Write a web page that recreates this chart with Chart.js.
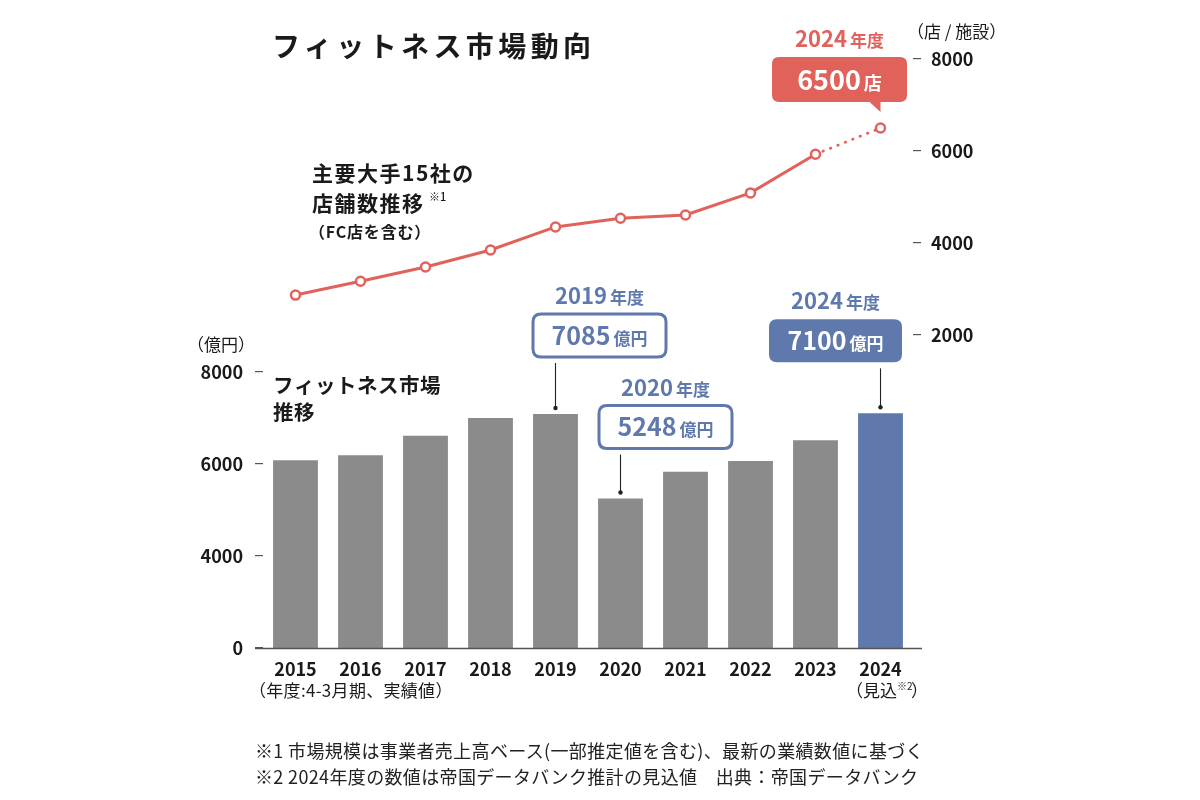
<!DOCTYPE html>
<html lang="ja">
<head>
<meta charset="utf-8">
<script src="https://cdn.jsdelivr.net/npm/chart.js@4.4.1/dist/chart.umd.min.js"></script>
<style>
  body { margin: 0; background: #fff; font-family: "Noto Sans CJK JP", "Noto Sans", sans-serif; }
  .page { position: relative; width: 1200px; height: 800px; overflow: hidden; }
  .page canvas { position: absolute; left: 0; top: 0; }
  .title { position: absolute; left: 272px; top: 27px; font-size: 28px; font-weight: 700; letter-spacing: 4.4px; line-height: 36px; color: #1a1a1a; }
  .notes { position: absolute; left: 255px; top: 737px; font-size: 18px; line-height: 26px; letter-spacing: 0.35px; color: #222; white-space: nowrap; }
</style>
</head>
<body>
<div class="page">
  <canvas id="fitnessChart" width="1200" height="800"></canvas>
  <div class="title">フィットネス市場動向</div>
  <div class="notes">
    <div>※1 市場規模は事業者売上高ベース(一部推定値を含む)、最新の業績数値に基づく</div>
    <div>※2 2024年度の数値は帝国データバンク推計の見込値　出典：帝国データバンク</div>
  </div>
</div>
<script>
// 年度
const years = ['2015', '2016', '2017', '2018', '2019', '2020', '2021', '2022', '2023', '2024'];
// フィットネス市場規模（億円）
const marketSize = [6080, 6190, 6610, 7000, 7085, 5248, 5830, 6065, 6515, 7100];
// 主要大手15社の店舗数（店/施設）
const storeCount = [2870, 3170, 3480, 3850, 4350, 4540, 4610, 5090, 5930, 6500];
// 左軸（億円）: 最下段は省略軸で「0」表示
const marketTicks = [2000, 4000, 6000, 8000];
const marketTickLabels = ['0', '4000', '6000', '8000'];
// 右軸（店/施設）
const storeTicks = [2000, 4000, 6000, 8000];

const RED = '#e0625b';
const BLUE = '#5f79ad';
const GRAY = '#8b8b8b';
const INK = '#1a1a1a';
const JP = '"Noto Sans CJK JP", "Noto Sans", sans-serif';

function font(size, weight) {
  return `${weight || 700} ${size}px ${JP}`;
}

function roundRect(ctx, x, y, w, h, r) {
  ctx.beginPath();
  ctx.moveTo(x + r, y);
  ctx.lineTo(x + w - r, y);
  ctx.quadraticCurveTo(x + w, y, x + w, y + r);
  ctx.lineTo(x + w, y + h - r);
  ctx.quadraticCurveTo(x + w, y + h, x + w - r, y + h);
  ctx.lineTo(x + r, y + h);
  ctx.quadraticCurveTo(x, y + h, x, y + h - r);
  ctx.lineTo(x, y + r);
  ctx.quadraticCurveTo(x, y, x + r, y);
  ctx.closePath();
}

// big number + small unit, centred on cx, baseline at by
function drawPair(ctx, cx, by, big, bigSize, small, smallSize, color, gap) {
  ctx.fillStyle = color;
  ctx.textBaseline = 'alphabetic';
  ctx.textAlign = 'left';
  ctx.font = font(bigSize);
  const w1 = ctx.measureText(big).width;
  ctx.font = font(smallSize);
  const w2 = ctx.measureText(small).width;
  const x0 = cx - (w1 + gap + w2) / 2;
  ctx.font = font(bigSize);
  ctx.fillText(big, x0, by);
  ctx.font = font(smallSize);
  ctx.fillText(small, x0 + w1 + gap, by);
}

function drawLines(ctx, x, lines, size, weight, spacing, align) {
  ctx.fillStyle = INK;
  ctx.textAlign = align || 'left';
  ctx.textBaseline = 'middle';
  ctx.font = font(size, weight);
  if ('letterSpacing' in ctx) ctx.letterSpacing = spacing + 'px';
  lines.forEach(([text, y]) => ctx.fillText(text, x, y));
  if ('letterSpacing' in ctx) ctx.letterSpacing = '0px';
}

const annotations = {
  id: 'annotations',
  afterDatasetsDraw(chart) {
    const { ctx, chartArea } = chart;
    const xs = chart.scales.x;
    const ys = chart.scales.y;
    const ys2 = chart.scales.y2;
    ctx.save();

    // baseline
    ctx.strokeStyle = '#555';
    ctx.lineWidth = 1.5;
    ctx.beginPath();
    ctx.moveTo(chartArea.left - 8, chartArea.bottom + 0.5);
    ctx.lineTo(chartArea.right + 9, chartArea.bottom + 0.5);
    ctx.stroke();

    // market callouts
    const callouts = [
      { year: '2019', dx: 44, top: -100, filled: false },
      { year: '2020', dx: 45, top: -93, filled: false },
      { year: '2024', dx: -45, top: -94, filled: true },
    ];
    callouts.forEach(c => {
      const i = years.indexOf(c.year);
      const x = xs.getPixelForValue(i);
      const y = ys.getPixelForValue(marketSize[i]);
      const w = 133, h = 43;
      const cx = x + c.dx;
      const top = y + c.top;
      roundRect(ctx, cx - w / 2, top, w, h, 8);
      if (c.filled) {
        ctx.fillStyle = BLUE;
        ctx.fill();
      } else {
        ctx.fillStyle = '#fff';
        ctx.fill();
        ctx.strokeStyle = BLUE;
        ctx.lineWidth = 3;
        ctx.stroke();
      }
      drawPair(ctx, cx, top + h / 2 + 9, String(marketSize[i]), 25, '億円', 17, c.filled ? '#fff' : BLUE, 3);
      drawPair(ctx, cx, top - 10, c.year, 22, '年度', 17, BLUE, 3);
      // connector
      ctx.strokeStyle = '#222';
      ctx.lineWidth = 1.1;
      ctx.beginPath();
      ctx.moveTo(x, top + h + 6);
      ctx.lineTo(x, y - 6);
      ctx.stroke();
      ctx.fillStyle = '#222';
      ctx.beginPath();
      ctx.arc(x, y - 6, 2.2, 0, Math.PI * 2);
      ctx.fill();
    });

    // store count callout (speech bubble)
    {
      const i = years.length - 1;
      const x = xs.getPixelForValue(i);
      const y = ys2.getPixelForValue(storeCount[i]);
      const w = 135, h = 45;
      const cx = x - 41;
      const top = y - 71;
      ctx.fillStyle = RED;
      roundRect(ctx, cx - w / 2, top, w, h, 7);
      ctx.fill();
      ctx.beginPath();
      ctx.moveTo(x - 12, top + h - 1);
      ctx.lineTo(x, top + h - 1);
      ctx.lineTo(x, top + h + 10);
      ctx.closePath();
      ctx.fill();
      drawPair(ctx, cx, top + h / 2 + 10, String(storeCount[i]), 27, '店', 18, '#fff', 3);
      drawPair(ctx, cx, top - 10, years[i], 22, '年度', 17, RED, 3);
    }

    // series captions
    drawLines(ctx, 312, [['主要大手15社の', 173], ['店舗数推移', 203]], 21, 700, 1.5);
    ctx.font = font(11, 500);
    ctx.fillStyle = INK;
    ctx.textAlign = 'left';
    ctx.fillText('※1', 429, 197);
    drawLines(ctx, 309, [['（FC店を含む）', 232]], 16, 700, 0.8);
    drawLines(ctx, 273, [['フィットネス市場', 385], ['推移', 412]], 20.5, 700, 0.5);

    // axis units
    drawLines(ctx, 187, [['（億円）', 345]], 17, 400, 0);
    drawLines(ctx, 907, [['（店 / 施設）', 32]], 17, 400, 0);

    // x axis notes
    drawLines(ctx, chartArea.left - 14, [['（年度:4-3月期、実績値）', 691]], 17, 400, 0.3);
    drawLines(ctx, chartArea.right - 16, [['（見込', 691]], 17, 400, 0, 'right');
    ctx.font = font(10, 400);
    ctx.textAlign = 'left';
    ctx.fillText('※2', chartArea.right - 16, 686);
    ctx.font = font(17, 400);
    ctx.fillText('）', chartArea.right - 2, 691);

    ctx.restore();
  }
};

new Chart(document.getElementById('fitnessChart'), {
  data: {
    labels: years,
    datasets: [
      {
        type: 'line',
        label: '店舗数',
        data: storeCount,
        yAxisID: 'y2',
        borderColor: RED,
        borderWidth: 3,
        pointRadius: 4.5,
        pointBorderWidth: 2.5,
        pointBorderColor: RED,
        pointBackgroundColor: '#fff',
        tension: 0,
        segment: {
          borderDash: ctx => ctx.p1DataIndex === years.length - 1 ? [0.5, 7.5] : undefined,
          borderCapStyle: ctx => ctx.p1DataIndex === years.length - 1 ? 'round' : 'butt',
          borderWidth: ctx => ctx.p1DataIndex === years.length - 1 ? 2.8 : 3,
        },
      },
      {
        type: 'bar',
        label: '市場規模',
        data: marketSize,
        yAxisID: 'y',
        backgroundColor: years.map((y, i) => i === years.length - 1 ? BLUE : GRAY),
        barPercentage: 0.69,
        categoryPercentage: 1,
        borderWidth: 0,
      }
    ]
  },
  options: {
    responsive: false,
    animation: false,
    layout: { padding: { top: 59, left: 0, right: 0, bottom: 0 } },
    scales: {
      x: {
        offset: true,
        grid: { display: false, drawTicks: false },
        border: { display: false },
        ticks: {
          color: INK,
          padding: 10,
          maxRotation: 0,
          font: { family: JP, size: 18, weight: 700 },
        },
        afterFit(scale) { scale.height = 152; },
      },
      y: {
        position: 'left',
        min: 2000,
        max: 14800,
        grid: { drawOnChartArea: false, drawTicks: true, tickLength: 8, color: '#555', lineWidth: 1.2 },
        border: { display: false },
        afterBuildTicks(scale) { scale.ticks = marketTicks.map(v => ({ value: v })); },
        afterFit(scale) { scale.width = 263; },
        ticks: {
          color: INK,
          padding: 12,
          font: { family: JP, size: 18, weight: 700 },
          callback: v => marketTickLabels[marketTicks.indexOf(v)],
        },
      },
      y2: {
        position: 'right',
        min: -4800,
        max: 8000,
        grid: { drawOnChartArea: false, drawTicks: true, tickLength: 8, color: '#555', lineWidth: 1.2 },
        border: { display: false },
        afterBuildTicks(scale) { scale.ticks = storeTicks.map(v => ({ value: v })); },
        afterFit(scale) { scale.width = 287; },
        ticks: {
          color: INK,
          padding: 10,
          font: { family: JP, size: 18, weight: 700 },
          callback: v => String(v),
        },
      },
    },
    plugins: {
      legend: { display: false },
      tooltip: { enabled: false },
    },
  },
  plugins: [annotations],
});
</script>
</body>
</html>
